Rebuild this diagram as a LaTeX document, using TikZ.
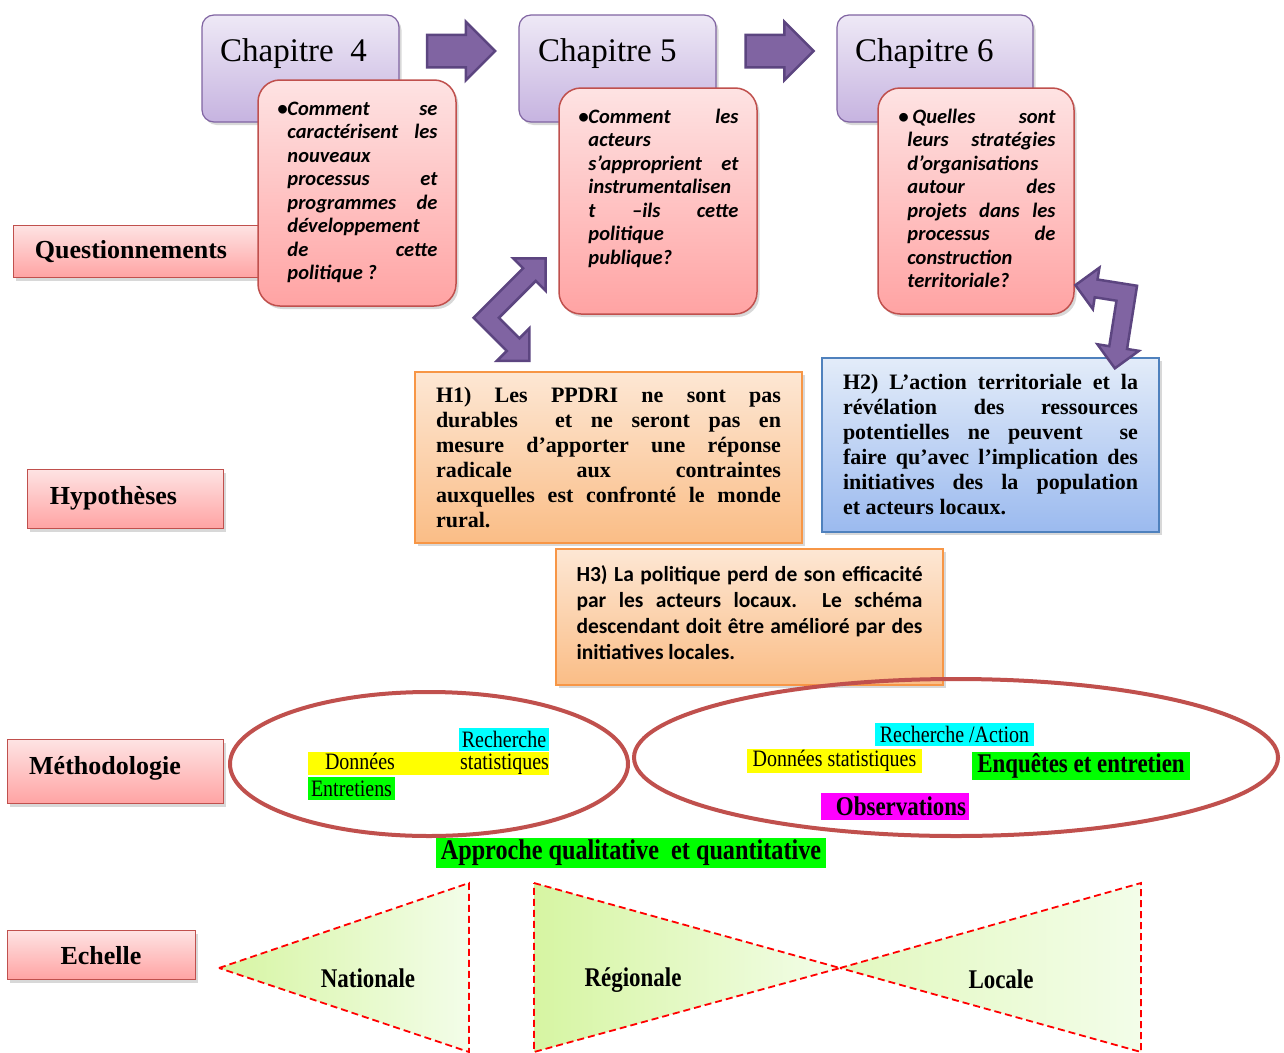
\documentclass[tikz,border=0pt]{standalone}
\usepackage{fontspec}
\usepackage{tikz}
\usetikzlibrary{shapes.geometric}
\usetikzlibrary{shapes.arrows}
\usetikzlibrary{shadows}
\usetikzlibrary{calc}
\newfontfamily\tnr{Liberation Serif}
\newfontfamily\tnrn[FakeStretch=0.85]{Liberation Serif}
\newfontfamily\calibri{Carlito}
\tolerance=10000 \hbadness=10000 \hyphenpenalty=10000
\definecolor{chaptop}{HTML}{EEE9F6}
\definecolor{chapbot}{HTML}{C6B3E0}
\definecolor{chapline}{HTML}{8064A2}
\definecolor{qtop}{HTML}{FEE3E3}
\definecolor{qbot}{HTML}{FFA3A3}
\definecolor{qline}{HTML}{C0504D}
\definecolor{otop}{HTML}{FDE7D4}
\definecolor{obot}{HTML}{FABD86}
\definecolor{oline}{HTML}{F79646}
\definecolor{btop}{HTML}{E3ECF9}
\definecolor{bbot}{HTML}{9BBAEF}
\definecolor{bline}{HTML}{4F81BD}
\definecolor{flfill}{HTML}{8064A2}
\definecolor{flline}{HTML}{5C4580}
\definecolor{trdark}{HTML}{D6F5A2}
\definecolor{trlight}{HTML}{F3FDE9}
\definecolor{surcyan}{HTML}{00FFFF}
\definecolor{surjaune}{HTML}{FFFF00}
\definecolor{survert}{HTML}{00FF00}
\definecolor{surmagenta}{HTML}{FF00FF}
% double fleche coudee : coin, angle, bras x, bras y, tete
\newcommand{\flechecoudee}[5]{%
  \begin{scope}[shift={#1}, rotate=#2]
    \filldraw[fleche] (-9,-9) -- ({#3-#5},-9) -- ({#3-#5},-#5) -- (#3,0) -- ({#3-#5},#5)
      -- ({#3-#5},9) -- (9,9) -- (9,{#4-#5}) -- (#5,{#4-#5}) -- (0,#4)
      -- (-#5,{#4-#5}) -- (-9,{#4-#5}) -- cycle;
  \end{scope}}

\begin{document}
\begin{tikzpicture}[x=1pt,y=-1pt,
    ombre/.style={drop shadow={shadow xshift=2.5pt,shadow yshift=-3pt,opacity=.3}},
    chap/.style={draw=chapline,line width=1.2pt,rounded corners=12pt,top color=chaptop,bottom color=chapbot,inner sep=0,ombre},
    chaptxt/.style={font=\tnr\fontsize{33}{36}\selectfont,inner sep=0},
    qbox/.style={draw=qline,line width=1.5pt,rounded corners=22pt,top color=qtop,bottom color=qbot,inner sep=0,ombre},
    qtxt/.style={font=\calibri\bfseries\itshape\fontsize{20.5}{23.5}\selectfont,inner sep=0,anchor=north west},
    etiq/.style={draw=qline,line width=1.2pt,top color=qtop,bottom color=qbot,inner sep=0,ombre},
    etiqtxt/.style={font=\tnr\bfseries\fontsize{26}{30}\selectfont,inner sep=0},
    hyptxt/.style={inner sep=0,align=justify,font=\tnr\bfseries\fontsize{22}{25}\selectfont},
    hyp/.style={hyptxt,line width=1.5pt,ombre},
    chevron/.style={single arrow,single arrow head extend=13pt,minimum height=68pt,inner xsep=0,inner ysep=15pt,fill=flfill,draw=flline,line width=2.5pt},
    fleche/.style={fill=flfill,draw=flline,line width=2.5pt,line join=miter},
    ovale/.style={ellipse,draw=qline,line width=4pt,inner sep=0},
    surl/.style={inner sep=0,font=\tnrn\fontsize{23.5}{26}\selectfont},
    surlg/.style={inner sep=0,font=\tnrn\bfseries\fontsize{27}{30}\selectfont},
    tri/.style={draw=red,line width=1.8pt,dash pattern=on 7pt off 4pt,left color=trdark,right color=trlight},
    tritxt/.style={font=\tnrn\bfseries\fontsize{27}{30}\selectfont,inner sep=0}]

    \path[fill=white] (0,0) rectangle (1284,1052);
    \useasboundingbox (0,0) rectangle (1284,1052);

    %%% ETIQUETTES A GAUCHE
    \node[etiq, minimum width=252, minimum height=52, anchor=north west] (quest) at (13,225) {};
    \node[etiqtxt] (questt) at (131,252) {Questionnements};
    \node[etiq, minimum width=196, minimum height=59, anchor=north west] (hypo) at (27,469) {};
    \node[etiqtxt] (hypot) at (113.5,498) {Hypothèses};
    \node[etiq, minimum width=216, minimum height=64, anchor=north west] (meth) at (7,739) {};
    \node[etiqtxt] (metht) at (105,768) {Méthodologie};
    \node[etiq, minimum width=188, minimum height=49, anchor=north west] (ech) at (7,930) {};
    \node[etiqtxt] (echt) at (101,956) {Echelle};

    %%% CHAPITRES
    \node[chap, minimum width=197, minimum height=107] (ch4) at (300.5,68.5) {};
    \node[chaptxt, anchor=base west] (ch4t) at (220,61) {Chapitre\ \ 4};
    \node[chap, minimum width=197, minimum height=107] (ch5) at (617.5,68.5) {};
    \node[chaptxt, anchor=base west] (ch5t) at (538,61) {Chapitre 5};
    \node[chap, minimum width=196, minimum height=107] (ch6) at (935,68.5) {};
    \node[chaptxt, anchor=base west] (ch6t) at (855,61) {Chapitre 6};

    % fleches entre chapitres
    \node[chevron, xshift=-6pt, yshift=17.5pt] (f45) at ($(ch4.east)!0.5!(ch5.west)$) {};
    \node[chevron, xshift=-5pt, yshift=17.5pt] (f56) at ($(ch5.east)!0.5!(ch6.west)$) {};

    % Questions
    \node[qbox, minimum width=198, minimum height=226] (q4) at (357,193) {};
    \node[qtxt] (q4t) at ([xshift=20pt,yshift=-19.5pt]q4.north west)
        {\begin{tabular}{@{}p{10pt}@{}p{150pt}@{}}
         • & Comment se\linebreak caractérisent les\linebreak nouveaux\linebreak processus et\linebreak
         programmes de\linebreak développement\linebreak de cette\linebreak politique ?
         \end{tabular}};
    \node[qbox, minimum width=198, minimum height=226] (q5) at (658,201) {};
    \node[qtxt] (q5t) at ([xshift=20pt,yshift=-19.5pt]q5.north west)
        {\begin{tabular}{@{}p{10pt}@{}p{150pt}@{}}
         • & Comment les\linebreak acteurs\linebreak s’approprient et\linebreak instrumentalisen\linebreak
         t –ils cette\linebreak politique\linebreak publique?
         \end{tabular}};
    \node[qbox, minimum width=196, minimum height=226] (q6) at (976,201) {};
    \node[qtxt] (q6t) at ([xshift=21pt,yshift=-19.5pt]q6.north west)
        {\begin{tabular}{@{}p{9pt}@{}p{148pt}@{}}
         • & \hspace{5pt}Quelles sont\linebreak leurs stratégies\linebreak d’organisations\linebreak autour des\linebreak
         projets dans les\linebreak processus de\linebreak construction\linebreak territoriale?
         \end{tabular}};

    %%% HYPOTHESES
    \node[hyp, top color=otop, bottom color=obot, draw=oline, minimum width=387, minimum height=171, text width=345] (h1) at (608.5,457.5)
        {H1) Les PPDRI ne sont pas\linebreak durables\ \ et ne seront pas en\linebreak
         mesure d’apporter une réponse\linebreak radicale aux contraintes\linebreak
         auxquelles est confronté le monde\linebreak rural.};
    \node[hyp, top color=btop, bottom color=bbot, draw=bline, minimum width=337, minimum height=174, text width=295] (h2) at (990.5,445)
        {H2) L’action territoriale et la\linebreak révélation des ressources\linebreak
         potentielles ne peuvent\ \ se\linebreak faire qu’avec l’implication des\linebreak
         initiatives des la population\linebreak et acteurs locaux.};
    \node[hyp, top color=otop, bottom color=obot, draw=oline, minimum width=387, minimum height=136] (h3) at (749.5,617) {};
    \node[hyptxt, text width=346, font=\calibri\bfseries\fontsize{21.5}{26}\selectfont, yshift=4pt] (h3t) at (h3)
        {H3) La politique perd de son efficacité\linebreak par les acteurs locaux.\ \ Le schéma\linebreak
         descendant doit être amélioré par des\linebreak initiatives locales.};

    % fleches coudees
    \flechecoudee{($(q5.south west)+(-72,3)$)}{45}{84}{61}{23}
    \flechecoudee{($(q6.south east)+(52,-21.5)$)}{-99}{76}{52}{21}

    %%% METHODOLOGIE
    \node[ovale, minimum width=398, minimum height=144] (m1) at (429,764) {};
    \node[ovale, minimum width=644, minimum height=157] (m2) at (956,757.5) {};

    \node[surl, fill=surcyan, minimum width=90, minimum height=23] (m1a) at (504,739.5) {Recherche};
    \node[surl, fill=surjaune, minimum width=241, minimum height=23] (m1b) at (428.5,763.5)
        {\hspace{17pt}\makebox[224pt]{Données\hfill statistiques}};
    \node[surl, fill=survert, minimum width=87, minimum height=23] (m1c) at (351.5,788.5) {Entretiens};

    \node[surl, fill=surcyan, minimum width=159, minimum height=23] (m2a) at (954.5,734.5) {Recherche /Action};
    \node[surl, fill=surjaune, minimum width=175, minimum height=24] (m2b) at (834.5,761) {Données statistiques};
    \node[surlg, fill=survert, minimum width=218, minimum height=28] (m2c) at (1081,766) {Enquêtes et entretien};
    \node[surlg, fill=surmagenta, minimum width=148, minimum height=27] (m2d) at (895,806.5) {\hspace{12pt}Observations};

    \node[surlg, fill=survert, minimum width=390, minimum height=30, font=\tnrn\bfseries\fontsize{28.5}{30}\selectfont] (appr) at (631,853)
        {Approche qualitative\ \ et quantitative};

    %%% ECHELLE
    \path[tri] (219,968) -- (469,883) -- (469,1052) -- cycle;
    \path[tri] (534,883) -- (840,968) -- (534,1052) -- cycle;
    \path[tri, left color=trdark!60!trlight] (840,968) -- (1141,883) -- (1141,1052) -- cycle;
    \node[tritxt] (nat) at (368,978) {Nationale};
    \node[tritxt] (reg) at (633,980) {Régionale};
    \node[tritxt] (loc) at (1001,979) {Locale};

\end{tikzpicture}
\end{document}
